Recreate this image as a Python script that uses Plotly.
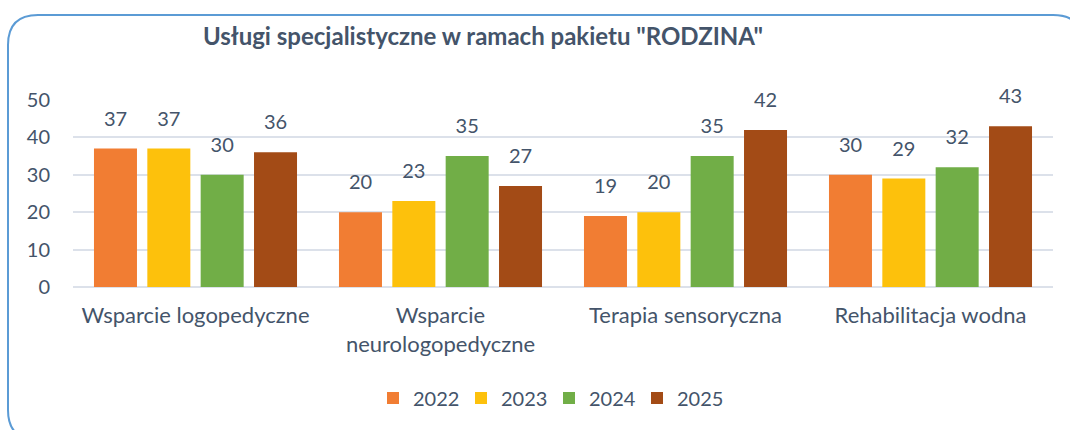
import plotly.graph_objects as go

categories = ["Wsparcie logopedyczne", "Wsparcie<br>neurologopedyczne",
              "Terapia sensoryczna", "Rehabilitacja wodna"]
years = ["2022", "2023", "2024", "2025"]
v2022 = [37, 20, 19, 30]
v2023 = [37, 23, 20, 29]
v2024 = [30, 35, 35, 32]
v2025 = [36, 27, 42, 43]
series = [v2022, v2023, v2024, v2025]
colors = ["#F17D33", "#FDC10C", "#71AE47", "#A34B16"]
y_ticks = [0, 10, 20, 30, 40, 50]

TXT = "#44546A"
FONT = "Lato"
FS = 20
W, H = 1070, 430
L, R, T, B = 73, 17, 100, 143
PW, PH = W - L - R, H - T - B
BARGAP = 0.129

fig = go.Figure()
for name, vals, col in zip(years, series, colors):
    fig.add_trace(go.Bar(x=categories, y=vals, name=name, marker_color=col,
                         marker_line_width=0, hoverinfo="skip"))
for name, vals in zip(years, series):
    fig.add_trace(go.Scatter(x=categories, y=vals, mode="markers+text",
                             text=[str(v) for v in vals], textposition="top center",
                             marker=dict(size=27, opacity=0), showlegend=False,
                             textfont=dict(family=FONT, size=FS, color=TXT),
                             cliponaxis=False, hoverinfo="skip"))

def px(x):
    return (x - L) / PW

def py(y):
    return (H - B - y) / PH

x0, y0, x1, y1, r = 8, 15, 1083, 440, 30
path = (f"M {px(x0 + r)},{py(y0)} L {px(x1 - r)},{py(y0)} "
        f"Q {px(x1)},{py(y0)} {px(x1)},{py(y0 + r)} "
        f"L {px(x1)},{py(y1 - r)} Q {px(x1)},{py(y1)} {px(x1 - r)},{py(y1)} "
        f"L {px(x0 + r)},{py(y1)} Q {px(x0)},{py(y1)} {px(x0)},{py(y1 - r)} "
        f"L {px(x0)},{py(y0 + r)} Q {px(x0)},{py(y0)} {px(x0 + r)},{py(y0)} Z")

fig.update_layout(
    width=W, height=H,
    margin=dict(l=L, r=R, t=T, b=B, autoexpand=False),
    paper_bgcolor="white", plot_bgcolor="white",
    barmode="group", bargap=BARGAP, bargroupgap=0.194,
    scattermode="group", scattergap=BARGAP,
    font=dict(family=FONT, size=FS, color=TXT),
    title=dict(text='<b>Usługi specjalistyczne w ramach pakietu "RODZINA"</b>',
               x=px(483), xref="paper", xanchor="center",
               y=1 - 37 / H, yref="container", yanchor="middle",
               font=dict(family=FONT, size=24, color=TXT)),
    showlegend=True,
    legend=dict(orientation="h", x=px(549), xanchor="center", y=py(398), yanchor="middle",
                font=dict(family=FONT, size=FS, color=TXT), traceorder="normal",
                itemwidth=30, entrywidth=43, entrywidthmode="pixels"),
    xaxis=dict(showgrid=False, showline=False, ticks="", ticklabelstandoff=13,
               tickfont=dict(family=FONT, size=22, color=TXT), fixedrange=True),
    yaxis=dict(range=[0, 50], tickvals=y_ticks, showgrid=True, gridcolor="#DCE1EA",
               gridwidth=1.5, zeroline=True, zerolinecolor="#DCE1EA", zerolinewidth=1.5,
               showline=False, ticks="", ticklabelstandoff=22,
               tickfont=dict(family=FONT, size=FS, color=TXT), fixedrange=True),
    shapes=[dict(type="path", path=path, xref="paper", yref="paper",
                 line=dict(color="#5B9BD5", width=2), fillcolor="rgba(0,0,0,0)",
                 layer="above")],
)

fig.write_html("out.html", config={"displayModeBar": False})
with open("out.html", encoding="utf-8") as f:
    html = f.read()
html = html.replace("<head>", "<head><style>html,body{margin:0;padding:0;overflow:hidden}</style>", 1)
with open("out.html", "w", encoding="utf-8") as f:
    f.write(html)
